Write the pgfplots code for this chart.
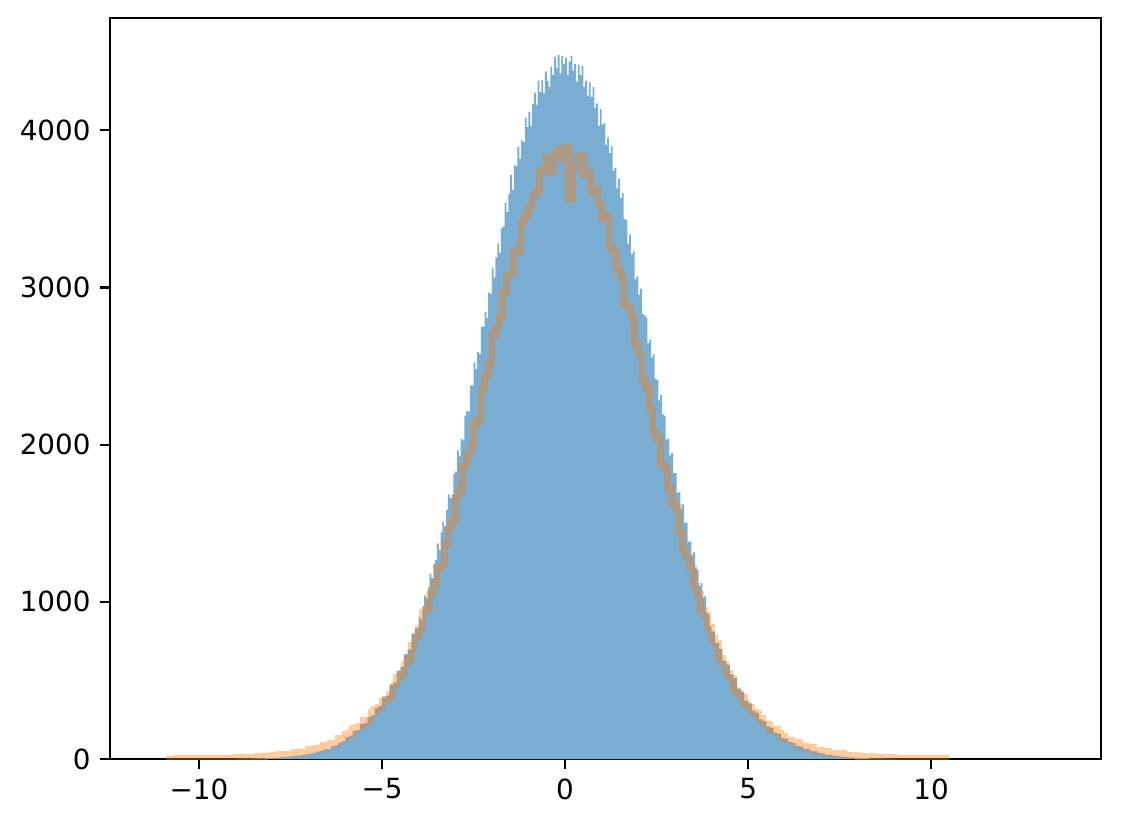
\documentclass[border=0pt]{standalone}
\usepackage{fontspec}
\setmainfont{DejaVu Sans}
\usepackage{pgfplots}
\pgfplotsset{compat=1.18}
\definecolor{hblue}{RGB}{121,173,210}
\definecolor{horange}{HTML}{FF7F0E}
\begin{document}
\begin{tikzpicture}
\begin{axis}[
  scale only axis, width=356.76pt, height=266.76pt,
  xmin=-12.43, xmax=14.64, ymin=0, ymax=4714,
  axis line style={line width=0.8pt, black},
  tick align=outside, tick pos=left,
  major tick length=3.5pt,
  every tick/.style={black, line width=0.8pt},
  xtick={-10,-5,0,5,10}, xticklabels={−10,−5,0,5,10},
  ytick={0,1000,2000,3000,4000}, yticklabels={0,1000,2000,3000,4000},
  scaled ticks=false,
  tick label style={font=\fontsize{10}{12}\selectfont},
]
% blue histogram
\addplot[fill=hblue, draw=none, const plot mark left] coordinates {
(-9.0,1) (-8.9,1) (-8.8,2) (-8.7,1) (-8.6,3) (-8.5,2) (-8.4,4) (-8.3,3) (-8.2,5) (-8.1,6)
(-8.0,7) (-7.9,9) (-7.8,10) (-7.7,13) (-7.6,15) (-7.5,17) (-7.4,21) (-7.3,22) (-7.2,27) (-7.1,30)
(-7.0,35) (-6.9,39) (-6.8,47) (-6.7,52) (-6.6,61) (-6.5,66) (-6.4,80) (-6.3,86) (-6.2,105) (-6.1,114)
(-6.0,140) (-5.9,148) (-5.8,178) (-5.7,186) (-5.6,222) (-5.5,228) (-5.4,268) (-5.3,278) (-5.2,325) (-5.1,336)
(-5.0,392) (-4.9,404) (-4.8,470) (-4.7,488) (-4.6,562) (-4.5,585) (-4.4,668) (-4.3,698) (-4.2,795) (-4.1,832)
(-4.00,904) (-3.95,887) (-3.90,971) (-3.85,1040) (-3.80,1020) (-3.75,1095) (-3.70,1180) (-3.65,1150)
(-3.60,1243) (-3.55,1265) (-3.50,1372) (-3.45,1330) (-3.40,1441) (-3.35,1507) (-3.30,1479) (-3.25,1585)
(-3.20,1683) (-3.15,1660) (-3.10,1682) (-3.05,1815) (-3.00,1829) (-2.95,1962) (-2.90,1926) (-2.85,2035)
(-2.80,2027) (-2.75,2185) (-2.70,2213) (-2.65,2210) (-2.60,2377) (-2.55,2375) (-2.50,2523) (-2.45,2480)
(-2.40,2590) (-2.35,2575) (-2.30,2750) (-2.25,2750) (-2.20,2843) (-2.15,2805) (-2.10,2967) (-2.05,2960)
(-2.00,3121) (-1.95,3062) (-1.90,3189) (-1.85,3280) (-1.80,3221) (-1.75,3378) (-1.70,3389) (-1.65,3540)
(-1.60,3480) (-1.55,3595) (-1.50,3715) (-1.45,3620) (-1.40,3776) (-1.35,3772) (-1.30,3894) (-1.25,3820)
(-1.20,3935) (-1.15,3925) (-1.10,4080) (-1.05,4020) (-1.00,4119) (-0.95,4027) (-0.90,4166) (-0.85,4240)
(-0.80,4161) (-0.75,4312) (-0.70,4244) (-0.65,4320) (-0.60,4235) (-0.55,4375) (-0.50,4315) (-0.45,4275)
(-0.40,4402) (-0.35,4350) (-0.30,4467) (-0.25,4395) (-0.20,4479) (-0.15,4362) (-0.10,4471) (-0.05,4420)
(0.00,4460) (0.05,4351) (0.10,4437) (0.15,4474) (0.20,4380) (0.25,4422) (0.30,4310) (0.35,4417)
(0.40,4350) (0.45,4410) (0.50,4275) (0.55,4315) (0.60,4220) (0.65,4304) (0.70,4212) (0.75,4276)
(0.80,4140) (0.85,4171) (0.90,4027) (0.95,4134) (1.00,4035) (1.05,4045) (1.10,3905) (1.15,3955)
(1.20,3855) (1.25,3899) (1.30,3742) (1.35,3761) (1.40,3630) (1.45,3690) (1.50,3570) (1.55,3600)
(1.60,3435) (1.65,3429) (1.70,3278) (1.75,3336) (1.80,3210) (1.85,3229) (1.90,3052) (1.95,3071)
(2.00,2955) (2.05,2992) (2.10,2830) (2.15,2823) (2.20,2810) (2.25,2645) (2.30,2670) (2.35,2555)
(2.40,2575) (2.45,2418) (2.50,2410) (2.55,2282) (2.60,2315) (2.65,2193) (2.70,2185) (2.75,2032)
(2.80,2040) (2.85,1931) (2.90,1947) (2.95,1819) (3.00,1820) (3.05,1692) (3.10,1700) (3.15,1593)
(3.20,1620) (3.25,1504) (3.30,1502) (3.35,1381) (3.40,1385) (3.45,1292) (3.50,1315) (3.55,1213)
(3.60,1205) (3.65,1100) (3.70,1120) (3.75,1025) (3.80,1035) (3.85,930) (3.90,918) (3.95,845)
(4.0,812) (4.1,738) (4.2,700) (4.3,625) (4.4,600) (4.5,538) (4.6,514) (4.7,448) (4.8,426) (4.9,371)
(5.0,354) (5.1,308) (5.2,293) (5.3,252) (5.4,242) (5.5,207) (5.6,199) (5.7,168) (5.8,161) (5.9,135)
(6.0,129) (6.1,107) (6.2,102) (6.3,84) (6.4,80) (6.5,66) (6.6,63) (6.7,50) (6.8,48) (6.9,38)
(7.0,36) (7.1,28) (7.2,27) (7.3,21) (7.4,20) (7.5,15) (7.6,14) (7.7,11) (7.8,10) (7.9,8)
(8.0,7) (8.1,5) (8.2,5) (8.3,3) (8.4,3) (8.5,2) (8.6,2) (8.7,1) (8.8,1) (8.9,0) (9.0,0)
} \closedcycle;
% orange step histogram
\addplot[draw=horange, draw opacity=0.4, line width=2.4pt, const plot mark left] coordinates {
(-10.9,1) (-10.6,2) (-10.2,3) (-9.8,5) (-9.4,7) (-9.0,9) (-8.8,10) (-8.6,13) (-8.4,14) (-8.2,20)
(-8.0,21) (-7.8,29) (-7.6,31) (-7.4,42) (-7.2,44) (-7.0,61) (-6.8,68) (-6.6,90) (-6.4,99) (-6.2,130)
(-6.0,157) (-5.9,162) (-5.8,196) (-5.7,203) (-5.6,206) (-5.5,244) (-5.4,243) (-5.3,297) (-5.2,314) (-5.1,331)
(-5.0,370) (-4.9,380) (-4.8,410) (-4.7,465) (-4.6,520) (-4.5,540) (-4.4,605) (-4.3,635) (-4.2,725) (-4.1,780)
(-4.0,830) (-3.9,935) (-3.8,955) (-3.7,1050) (-3.6,1110) (-3.5,1210) (-3.4,1230) (-3.3,1360) (-3.2,1470) (-3.1,1510)
(-3.0,1664) (-2.9,1708) (-2.8,1859) (-2.7,1929) (-2.6,1979) (-2.5,2128) (-2.4,2163) (-2.3,2354) (-2.2,2435) (-2.1,2515)
(-2.0,2701) (-1.9,2749) (-1.8,2807) (-1.7,2966) (-1.6,3079) (-1.5,3086) (-1.4,3221) (-1.3,3243) (-1.2,3409) (-1.1,3460)
(-1.0,3506) (-0.9,3580) (-0.8,3618) (-0.7,3738) (-0.6,3749) (-0.5,3827) (-0.4,3731) (-0.3,3845) (-0.2,3881) (-0.1,3811)
(0.0,3892) (0.1,3560) (0.2,3764) (0.3,3824) (0.4,3840) (0.5,3718) (0.6,3732) (0.7,3600) (0.8,3630) (0.9,3530)
(1.0,3436) (1.1,3450) (1.2,3260) (1.3,3227) (1.4,3114) (1.5,3068) (1.6,2885) (1.7,2876) (1.8,2808) (1.9,2635)
(2.0,2570) (2.1,2415) (2.2,2363) (2.3,2224) (2.4,2073) (2.5,2033) (2.6,1872) (2.7,1850) (2.8,1724) (2.9,1620)
(3.0,1599) (3.1,1440) (3.2,1330) (3.3,1285) (3.4,1215) (3.5,1100) (3.6,1045) (3.7,945) (3.8,915) (3.9,835)
(4.0,765) (4.1,735) (4.2,640) (4.3,605) (4.4,545) (4.5,515) (4.6,435) (4.7,420) (4.8,390) (4.9,345)
(5.0,330) (5.1,295) (5.2,290) (5.3,258) (5.4,222) (5.5,220) (5.6,182) (5.7,190) (5.8,166) (5.9,144)
(6.0,120) (6.2,108) (6.4,83) (6.6,74) (6.8,56) (7.0,49) (7.2,38) (7.4,34) (7.6,26) (7.8,24)
(8.0,18) (8.2,16) (8.4,12) (8.6,11) (8.8,9) (9.0,7) (9.4,5) (9.8,3) (10.0,2) (10.4,0)
};
\end{axis}
\useasboundingbox ([shift={(-39.6pt,-24.12pt)}]current axis.south west) rectangle ([shift={(7.2pt,6.48pt)}]current axis.north east);
\end{tikzpicture}
\end{document}
